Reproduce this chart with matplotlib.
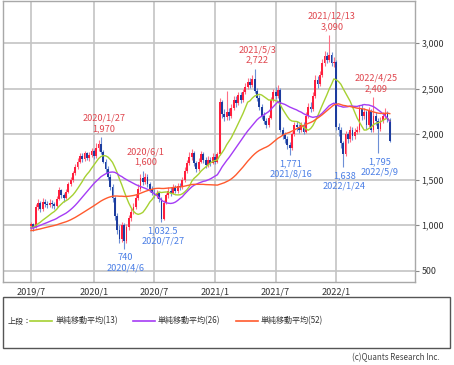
import numpy as np
import pandas as pd
import matplotlib
matplotlib.use("Agg")
import matplotlib.pyplot as plt
from matplotlib.patches import Rectangle
from matplotlib.lines import Line2D

plt.rcParams['font.family'] = ['Noto Sans CJK JP', 'DejaVu Sans']

# weekly bars, first week 2019/7/1
dates = pd.date_range('2019-07-01', periods=155, freq='W-MON')

# closes of the year before the chart starts (only feed the moving averages)
pre_closes = [910, 900, 920, 905, 915, 900, 890, 910, 920, 915, 905, 925, 910,
              900, 915, 920, 930, 910, 905, 920, 925, 915, 930, 920, 910, 925,
              940, 955, 960, 950, 945, 960, 970, 955, 960, 950, 965, 970, 960,
              975, 965, 980, 970, 960, 975, 985, 970, 980, 975, 990, 980, 970]

opens = [990, 1010, 980, 1200, 1240, 1180, 1260, 1230, 1220, 1250,
         1230, 1210, 1290, 1390, 1330, 1300, 1370, 1450, 1500, 1570,
         1640, 1700, 1760, 1730, 1790, 1740, 1770, 1820, 1760, 1850,
         1890, 1800, 1700, 1620, 1530, 1420, 1300, 1100, 950, 850,
         1000, 830, 980, 1080, 1150, 1200, 1300, 1400, 1520, 1480,
         1530, 1450, 1400, 1360, 1330, 1350, 1290, 1070, 1250, 1330,
         1380, 1360, 1410, 1380, 1430, 1420, 1500, 1600, 1680, 1750,
         1790, 1680, 1620, 1700, 1780, 1720, 1660, 1720, 1690, 1750,
         1700, 1780, 2350, 2220, 2190, 2250, 2200, 2290, 2380, 2340,
         2430, 2380, 2460, 2520, 2580, 2540, 2610, 2480, 2400, 2300,
         2200, 2150, 2100, 2180, 2380, 2460, 2420, 2490, 2050, 1990,
         1950, 1880, 1850, 2000, 2100, 2080, 2050, 2100, 2030, 2200,
         2300, 2280, 2420, 2600, 2550, 2650, 2780, 2860, 2820, 2870,
         2780, 2800, 2080, 2050, 1900, 1780, 2000, 1950, 2050, 1980,
         2030, 2050, 2280, 2200, 2250, 2100, 2260, 2050, 2200, 2150,
         2060, 2150, 2200, 2230, 2160]

closes = [1010, 980, 1200, 1240, 1180, 1260, 1230, 1220, 1250, 1230,
          1210, 1290, 1390, 1330, 1300, 1370, 1450, 1500, 1570, 1640,
          1700, 1760, 1730, 1790, 1740, 1770, 1820, 1760, 1850, 1890,
          1800, 1700, 1620, 1530, 1420, 1300, 1100, 950, 850, 1000,
          830, 980, 1080, 1150, 1200, 1300, 1400, 1520, 1480, 1530,
          1450, 1400, 1360, 1330, 1350, 1290, 1070, 1250, 1330, 1380,
          1360, 1410, 1380, 1430, 1420, 1500, 1600, 1680, 1750, 1790,
          1680, 1620, 1700, 1780, 1720, 1660, 1720, 1690, 1750, 1700,
          1780, 2350, 2220, 2190, 2250, 2200, 2290, 2380, 2340, 2430,
          2380, 2460, 2520, 2580, 2540, 2610, 2480, 2400, 2300, 2200,
          2150, 2100, 2180, 2380, 2460, 2420, 2490, 2050, 1990, 1950,
          1880, 1850, 2000, 2100, 2080, 2050, 2100, 2030, 2200, 2300,
          2280, 2420, 2600, 2550, 2650, 2780, 2860, 2820, 2870, 2780,
          2800, 2080, 2050, 1900, 1780, 2000, 1950, 2050, 1980, 2030,
          2050, 2280, 2200, 2250, 2100, 2260, 2050, 2200, 2150, 2060,
          2150, 2200, 2230, 2160, 1930]

highs = [1040, 1030, 1230, 1290, 1270, 1300, 1290, 1270, 1290, 1280,
         1260, 1320, 1420, 1400, 1350, 1400, 1480, 1530, 1600, 1670,
         1740, 1790, 1790, 1820, 1810, 1800, 1850, 1840, 1900, 1940,
         1970, 1830, 1730, 1650, 1560, 1450, 1320, 1130, 1000, 1040,
         1020, 1010, 1110, 1190, 1250, 1340, 1450, 1560, 1600, 1570,
         1560, 1480, 1430, 1400, 1390, 1370, 1310, 1280, 1360, 1420,
         1420, 1450, 1440, 1470, 1470, 1530, 1640, 1720, 1800, 1840,
         1820, 1710, 1740, 1820, 1800, 1750, 1760, 1750, 1790, 1780,
         1810, 2400, 2380, 2280, 2480, 2290, 2330, 2420, 2420, 2470,
         2460, 2500, 2560, 2620, 2620, 2650, 2722, 2510, 2430, 2330,
         2240, 2180, 2210, 2410, 2500, 2520, 2540, 2510, 2080, 2020,
         1980, 1910, 2030, 2140, 2150, 2110, 2140, 2130, 2240, 2340,
         2350, 2460, 2650, 2640, 2700, 2830, 2920, 2900, 3090, 2900,
         2850, 2820, 2120, 2080, 1930, 2040, 2030, 2090, 2080, 2070,
         2090, 2320, 2330, 2290, 2270, 2300, 2280, 2409, 2240, 2180,
         2190, 2250, 2290, 2260, 2180]

lows = [950, 940, 970, 1170, 1150, 1160, 1200, 1190, 1200, 1190,
        1180, 1200, 1280, 1300, 1260, 1290, 1350, 1430, 1480, 1550,
        1620, 1680, 1700, 1710, 1720, 1710, 1750, 1730, 1740, 1820,
        1780, 1680, 1580, 1500, 1390, 1260, 1060, 900, 800, 820,
        740, 800, 950, 1050, 1120, 1180, 1280, 1380, 1440, 1450,
        1420, 1370, 1330, 1300, 1300, 1260, 1032.5, 1060, 1230, 1300,
        1320, 1340, 1350, 1360, 1390, 1400, 1480, 1580, 1660, 1720,
        1650, 1590, 1600, 1680, 1690, 1630, 1640, 1650, 1670, 1670,
        1680, 1770, 2180, 2150, 2160, 2160, 2180, 2270, 2300, 2320,
        2340, 2360, 2440, 2500, 2510, 2520, 2450, 2370, 2270, 2170,
        2110, 2070, 2080, 2170, 2350, 2390, 2400, 2020, 1950, 1900,
        1840, 1771, 1830, 1980, 2040, 2010, 2020, 2000, 2010, 2180,
        2240, 2260, 2400, 2510, 2530, 2630, 2750, 2780, 2800, 2750,
        2740, 2050, 1980, 1850, 1638, 1760, 1900, 1920, 1940, 1950,
        2000, 2030, 2160, 2170, 2060, 2080, 2020, 2030, 2100, 1795,
        2040, 2120, 2170, 2130, 1910]

high_marks = [('2020-01-27', 1970), ('2020-06-01', 1600), ('2021-05-03', 2722),
              ('2021-12-13', 3090), ('2022-04-25', 2409)]
low_marks = [('2020-04-06', 740), ('2020-07-27', 1032.5), ('2021-08-16', 1771),
             ('2022-01-24', 1638), ('2022-05-09', 1795)]

ma_windows = [13, 26, 52]
ma_colors = ['#a6d132', '#a53cf5', '#ff5a2e']
y_ticks = [500, 1000, 1500, 2000, 2500, 3000]

# ---------------------------------------------------------------
fig = plt.figure(figsize=(4.54, 3.65), dpi=100)
ax = fig.add_axes([3 / 454, 1 - 281.7 / 365, 411.7 / 454, 280.7 / 365])

o = np.array(opens, dtype=float)
c = np.array(closes, dtype=float)
h = np.array(highs, dtype=float)
l = np.array(lows, dtype=float)
x = np.arange(len(c))
up = c >= o

up_col, dn_col = '#ff1f3d', '#1d3c9e'
cols = np.where(up, up_col, dn_col)
wick_cols = np.where(up, '#ff6f85', '#6d8fd6')

ax.vlines(x, l, h, colors=wick_cols, lw=0.8, zorder=2)
body_bot = np.minimum(o, c)
body_h = np.maximum(np.abs(c - o), 8)
ax.bar(x, body_h, bottom=body_bot, width=0.8, color=cols, lw=0, zorder=3)

# simple moving averages
all_closes = pd.Series(pre_closes + closes, dtype=float)
n_pre = len(pre_closes)
for w, col in zip(ma_windows, ma_colors):
    ma = all_closes.rolling(w).mean().values[n_pre:]
    ax.plot(x, ma, color=col, lw=1.0, zorder=4)

# high / low labels
for d, v in high_marks:
    i = dates.get_loc(pd.Timestamp(d))
    t = pd.Timestamp(d)
    ax.annotate(f"{t.year}/{t.month}/{t.day}\n{v:,}", (i, v), xytext=(2, 3),
                textcoords='offset points', ha='center', va='bottom',
                fontsize=6.6, color='#e0474f', linespacing=1.2, zorder=5)
for d, v in low_marks:
    i = dates.get_loc(pd.Timestamp(d))
    t = pd.Timestamp(d)
    ax.annotate(f"{v:,}\n{t.year}/{t.month}/{t.day}", (i, v), xytext=(1, -3),
                textcoords='offset points', ha='center', va='top',
                fontsize=6.6, color='#4b7fe6', linespacing=1.2, zorder=5)

# axes, ticks, grid
ax.set_xlim(-12.0, 164.7)
ax.set_ylim(380, 3465)

tick_pos, tick_lab = [], []
for m in ['2019-07', '2020-01', '2020-07', '2021-01', '2021-07', '2022-01']:
    p = pd.Period(m)
    i = int(np.argmax((dates.year == p.year) & (dates.month == p.month)))
    tick_pos.append(i)
    tick_lab.append(f"{p.year}/{p.month}")
ax.set_xticks(tick_pos)
ax.set_xticklabels(tick_lab)
ax.set_yticks(y_ticks)
ax.set_yticklabels([f"{v:,}" for v in y_ticks])
ax.yaxis.tick_right()
ax.tick_params(axis='y', length=3, width=0.8, color='#888888', pad=2,
               labelsize=6.4, labelcolor='#333333')
ax.tick_params(axis='x', length=0, pad=4, labelsize=6.6, labelcolor='#333333')
ax.grid(True, color='#c4c4c4', lw=1.2, zorder=0)
ax.set_axisbelow(True)
for s in ax.spines.values():
    s.set_color('#a8a8a8')
    s.set_linewidth(1.0)

# legend box below the chart
fig.patches.append(Rectangle((3 / 454, 1 - 348 / 365), 447 / 454, 51.3 / 365,
                             transform=fig.transFigure, fill=False,
                             edgecolor='#555555', lw=1.0))
ly = 1 - 321 / 365
fig.text(8 / 454, ly, '上段：', fontsize=5.8, color='#333333', va='center')
leg_items = [(30, 56, '単純移動平均(13)'), (133, 158, '単純移動平均(26)'),
             (236, 261, '単純移動平均(52)')]
for (x0, tx, lab), col in zip(leg_items, ma_colors):
    fig.add_artist(Line2D([x0 / 454, (x0 + 22) / 454], [ly, ly], color=col,
                          lw=1.2, transform=fig.transFigure))
    fig.text(tx / 454, ly, lab, fontsize=5.8, color='#333333', va='center')

fig.text(440 / 454, 1 - 358 / 365, '(c)Quants Research Inc.', fontsize=5.8,
         color='#444444', ha='right', va='center')

fig.savefig('out.png', dpi=100)
